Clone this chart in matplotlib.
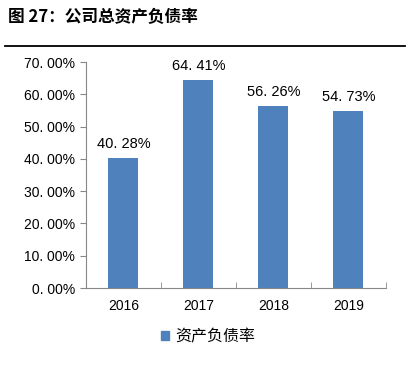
import matplotlib
matplotlib.use("Agg")
import matplotlib.pyplot as plt
from matplotlib.lines import Line2D

plt.rcParams['font.family'] = ['Liberation Sans', 'Noto Sans CJK SC', 'DejaVu Sans']

years = ['2016', '2017', '2018', '2019']
ratio = [40.28, 64.41, 56.26, 54.73]
yticks = [0, 10, 20, 30, 40, 50, 60, 70]
series_name = '资产负债率'
title = '图 27：公司总资产负债率'
bar_color = '#4F81BD'

fig = plt.figure(figsize=(4.10, 3.77), dpi=100)
ax = fig.add_axes([86/410, 1-288/377, 300/410, 226/377])

x = range(len(years))
ax.bar(x, ratio, width=0.4, color=bar_color)
for xi, v in zip(x, ratio):
    ax.annotate(('%.2f%%' % v).replace('.', '. '), (xi, v), xytext=(0, 5),
                textcoords='offset points', ha='center', va='bottom', fontsize=10.5)

ax.set_xlim(-0.5, len(years) - 0.5)
ax.set_ylim(0, 70)
ax.set_yticks(yticks)
ax.set_yticklabels(['%d. 00%%' % t for t in yticks], fontsize=10)
ax.set_xticks(x)
ax.set_xticklabels(years, fontsize=10)
ax.set_xticks([i + 0.5 for i in range(-1, len(years))], minor=True)
ax.tick_params(axis='x', which='major', length=0, pad=8)
ax.tick_params(axis='x', which='minor', direction='in', length=4, color='#888888')
ax.tick_params(axis='y', direction='out', length=4, color='#888888', pad=4)
for s in ['top', 'right']:
    ax.spines[s].set_visible(False)
for s in ['left', 'bottom']:
    ax.spines[s].set_color('#888888')

fig.text(8/410, 1-17/377, title, fontsize=12, fontweight='bold',
         family=['Noto Sans CJK SC'], va='center', ha='left')
fig.add_artist(Line2D([5/410, 405/410], [1-46/377, 1-46/377], color='black', lw=1.3,
                      transform=fig.transFigure))

handle = plt.Rectangle((0, 0), 1, 1, color=bar_color)
fig.legend([handle], [series_name], loc='center', bbox_to_anchor=(208/410, 1-337/377),
           frameon=False, handlelength=0.5, handleheight=0.5, handletextpad=0.4,
           prop={'family': 'Noto Sans CJK SC', 'size': 11.5})

fig.savefig('out.png', dpi=100)
